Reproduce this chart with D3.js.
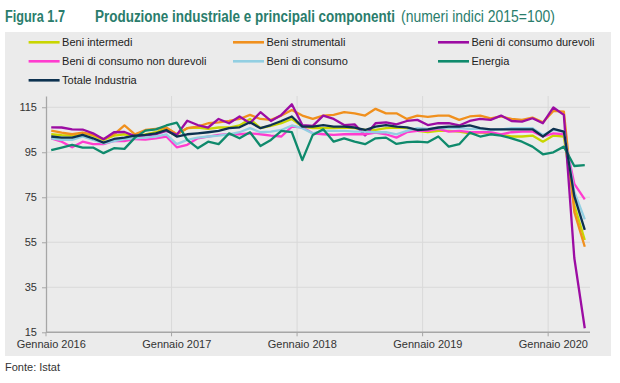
<!DOCTYPE html>
<html>
<head>
<meta charset="utf-8">
<script src="https://cdn.jsdelivr.net/npm/d3@7"></script>
<style>
  body { margin: 0; background: #fff; }
  svg { display: block; font-family: "Liberation Sans", Arial, sans-serif; }
</style>
</head>
<body>
<svg id="chart" width="620" height="383"></svg>
<script>
// mesi gen 2016 - apr 2020
const months = [
  "2016-01","2016-02","2016-03","2016-04","2016-05","2016-06","2016-07","2016-08","2016-09","2016-10","2016-11","2016-12",
  "2017-01","2017-02","2017-03","2017-04","2017-05","2017-06","2017-07","2017-08","2017-09","2017-10","2017-11","2017-12",
  "2018-01","2018-02","2018-03","2018-04","2018-05","2018-06","2018-07","2018-08","2018-09","2018-10","2018-11","2018-12",
  "2019-01","2019-02","2019-03","2019-04","2019-05","2019-06","2019-07","2019-08","2019-09","2019-10","2019-11","2019-12",
  "2020-01","2020-02","2020-03","2020-04"
];
const xTickMonths = ["2016-01", "2017-01", "2018-01", "2019-01", "2020-01"];
const xTickLabels = ["Gennaio 2016", "Gennaio 2017", "Gennaio 2018", "Gennaio 2019", "Gennaio 2020"];
const yTicks = [15, 35, 55, 75, 95, 115];

const beniIntermedi = [
  103, 102.6, 102.4, 103.6, 102.4, 100.5, 102.4, 103, 102, 103, 103.9,
  105.7, 103, 105.7, 106, 105.4, 106, 106, 106.9, 109.8, 105.7,
  106.7, 107.9, 109.8, 106.4, 105.7, 105.7, 105.7, 106, 105.7, 104.9, 104.9,
  105.7, 106, 105.7, 104.5, 103.9, 104.5, 104.5, 104.2, 103.4, 103.9, 103.4,
  102.7, 102, 102, 102.4, 99.7, 102.4, 102, 71.5, 56
];
const beniStrumentali = [
  104.6, 103.7, 103, 103.7, 102.7, 100.9, 103, 106.9, 103, 104.9, 105.4,
  106, 103, 105.7, 106.4, 107.9, 108.3, 108.9, 109.8, 111.6, 109.8,
  109.4, 111.3, 113.8, 111.3, 109.8, 111.3, 111.6, 112.8, 112.3, 111.3, 114.3,
  112.3, 112.3, 109.8, 111.3, 110.7, 111.3, 111.3, 109.4, 110.9, 111.3, 110.1,
  110.9, 109.8, 109.4, 110.4, 108.3, 113.4, 113.1, 68.5, 53
];
const beniDurevoli = [
  106.1, 106, 105.2, 105.1, 103.4, 100.8, 103.9, 104, 102.2, 102.5, 103,
  104.5, 102.7, 109, 107.1, 106, 109.8, 107.9, 110.9, 107.9, 112.8,
  108.9, 111.6, 116.3, 107.1, 106.7, 111.3, 109.8, 107.1, 107.4, 102.5, 107.9,
  108.3, 107.4, 108.9, 109.4, 107.1, 107.9, 107.9, 106.9, 108.9, 109.8, 109.4,
  111.3, 108.9, 108.6, 110.1, 107.9, 114.9, 111.6, 48, 16.8
];
const beniNonDurevoli = [
  101.2, 99.7, 97.2, 99.7, 98.6, 98.6, 100, 100, 100.9, 100.6, 101.2,
  102, 97.2, 98.3, 101.2, 102, 102.7, 103, 103, 103.4, 103,
  102.4, 102, 106.4, 106.1, 103.4, 103, 102.7, 103, 103, 103, 103.7,
  103, 101.5, 103.9, 104.5, 104.5, 105.4, 104.2, 104.5, 103.9, 103.9, 103.9,
  103, 103.9, 104.2, 104.2, 102, 103.4, 103, 81, 74.1
];
const beniConsumo = [
  101.2, 100.5, 100.5, 102, 100.5, 99, 100, 100.8, 101.2, 101.5, 102,
  103, 98.6, 100.5, 101.5, 102, 102.4, 103, 103.9, 105.7, 103.9,
  104.2, 104.9, 106.9, 105.7, 103.4, 104.5, 104.5, 104.5, 104.2, 104.2, 103.9,
  103.9, 103, 104.5, 105.7, 105.4, 105.7, 105.7, 105.7, 105.4, 105.4, 104.9,
  105.2, 105.7, 105.7, 105.7, 102.7, 104.9, 104.2, 77.5, 65.2
];
const energia = [
  95.9, 97.1, 98.3, 97.1, 97.1, 94.6, 96.8, 96.5, 101.5, 104.6, 105.2,
  106.9, 108.2, 100.5, 96.8, 99.7, 98.6, 103.4, 101.2, 103.9, 97.8,
  100.5, 104.5, 103.9, 91.5, 102.7, 105.2, 99.7, 101.2, 99.7, 98.6, 101.2,
  101.5, 98.7, 99.5, 99.7, 99.4, 102, 97.5, 98.6, 103.7, 102, 103,
  102.4, 101.2, 99.7, 97.5, 94.1, 95, 97.5, 88.9, 89.3
];
const totaleIndustria = [
  102, 101.5, 101.5, 102.7, 101.2, 99.3, 100.9, 101.5, 102.4, 102.7, 103.4,
  104.9, 102, 103, 103.4, 103.9, 104.5, 105.7, 106.1, 108.3, 105.7,
  107.1, 108.9, 110.9, 106.4, 106.4, 107.1, 106.4, 106.4, 106, 104.9, 106.4,
  107.1, 106.4, 106.1, 104.9, 105.2, 106, 106.4, 106.4, 106.9, 105.7, 105.2,
  105.2, 105.2, 105.2, 105.2, 102, 105.4, 104.2, 75.5, 60.5
];

const series = [
  { name: "Beni intermedi", values: beniIntermedi, color: "#c9d600" },
  { name: "Beni strumentali", values: beniStrumentali, color: "#f0901e" },
  { name: "Beni di consumo durevoli", values: beniDurevoli, color: "#9c0ca3" },
  { name: "Beni di consumo non durevoli", values: beniNonDurevoli, color: "#ff3ccf" },
  { name: "Beni di consumo", values: beniConsumo, color: "#92cfe2" },
  { name: "Energia", values: energia, color: "#0f8a6c" },
  { name: "Totale Industria", values: totaleIndustria, color: "#0d3250" }
];

const svg = d3.select("#chart");
const plot = { left: 46, right: 590, top: 96, bottom: 332.3 };

// sfondo grigio del grafico
svg.append("rect")
  .attr("x", 5).attr("y", 32)
  .attr("width", 606).attr("height", 324)
  .attr("fill", "#ebebeb");

// titolo: font stretto, ottenuto scalando in orizzontale
const titleColor = "#2a7d6c";
const titleParts = [
  { text: "Figura 1.7", x: 5, len: 60, weight: "bold" },
  { text: "Produzione industriale e principali componenti", x: 95, len: 300, weight: "bold" },
  { text: "(numeri indici 2015=100)", x: 401, len: 154, weight: "normal" }
];
svg.append("g").selectAll("text").data(titleParts).join("text")
  .attr("fill", titleColor)
  .attr("font-size", 17)
  .attr("font-weight", d => d.weight)
  .text(d => d.text)
  .attr("transform", function (d) {
    const k = d.len / this.getComputedTextLength();
    return `translate(${d.x},22) scale(${k},1)`;
  });

const x = d3.scaleBand().domain(months).range([plot.left, plot.right]).padding(0);
const y = d3.scaleLinear().domain([15, 120]).range([plot.bottom, plot.top]);
const cx = m => x(m) + x.bandwidth() / 2;

// griglia
const grid = svg.append("g").attr("stroke", "#d9d9d9").attr("stroke-width", 1);
grid.selectAll(".hy").data(yTicks.slice(1)).join("line")
  .attr("x1", plot.left).attr("x2", plot.right)
  .attr("y1", d => y(d)).attr("y2", d => y(d));
grid.selectAll(".vx").data(xTickMonths.slice(1)).join("line")
  .attr("x1", d => x(d)).attr("x2", d => x(d))
  .attr("y1", plot.top).attr("y2", plot.bottom);

// asse y
const yAxis = svg.append("g")
  .attr("transform", `translate(${plot.left},0)`)
  .call(d3.axisLeft(y).tickValues(yTicks).tickSize(4).tickPadding(5).tickSizeOuter(0));
yAxis.select(".domain").attr("stroke", "#a6a6a6").attr("stroke-width", 1.3);
yAxis.selectAll(".tick line").attr("stroke", "#a6a6a6");
yAxis.selectAll("text").attr("font-size", 11).attr("fill", "#333")
  .attr("font-family", "Liberation Sans, Arial, sans-serif");

// asse x
const xAxisG = svg.append("g").attr("transform", `translate(0,${plot.bottom})`);
xAxisG.append("line")
  .attr("x1", plot.left).attr("x2", plot.right)
  .attr("stroke", "#a6a6a6").attr("stroke-width", 1.5);
xAxisG.selectAll(".tk").data(xTickMonths).join("line")
  .attr("x1", d => x(d)).attr("x2", d => x(d))
  .attr("y1", 0).attr("y2", 4)
  .attr("stroke", "#a6a6a6");
xAxisG.selectAll(".lb").data(xTickMonths).join("text")
  .attr("x", d => cx(d))
  .attr("y", 15.5)
  .attr("text-anchor", "middle")
  .attr("font-size", 11)
  .attr("fill", "#333")
  .text((d, i) => xTickLabels[i]);

// linee
const line = d3.line()
  .x((d, i) => cx(months[i]))
  .y(d => y(d));

svg.append("g").selectAll("path").data(series).join("path")
  .attr("d", s => line(s.values))
  .attr("fill", "none")
  .attr("stroke", s => s.color)
  .attr("stroke-width", 2.3)
  .attr("stroke-linejoin", "round");

// legenda
const legendCols = [28.6, 233, 438];
const legendRows = [42.3, 61.3, 80.3];
const lg = svg.append("g");
series.forEach((s, i) => {
  const lx = legendCols[i % 3];
  const ly = legendRows[Math.floor(i / 3)];
  lg.append("line")
    .attr("x1", lx).attr("x2", lx + 31)
    .attr("y1", ly).attr("y2", ly)
    .attr("stroke", s.color).attr("stroke-width", 2.6);
  lg.append("text")
    .attr("x", lx + 33.5).attr("y", ly + 4)
    .attr("font-size", 11).attr("fill", "#222")
    .text(s.name);
});

// fonte
svg.append("text")
  .attr("x", 5).attr("y", 370.5)
  .attr("font-size", 11).attr("fill", "#333")
  .text("Fonte: Istat");
</script>
</body>
</html>
